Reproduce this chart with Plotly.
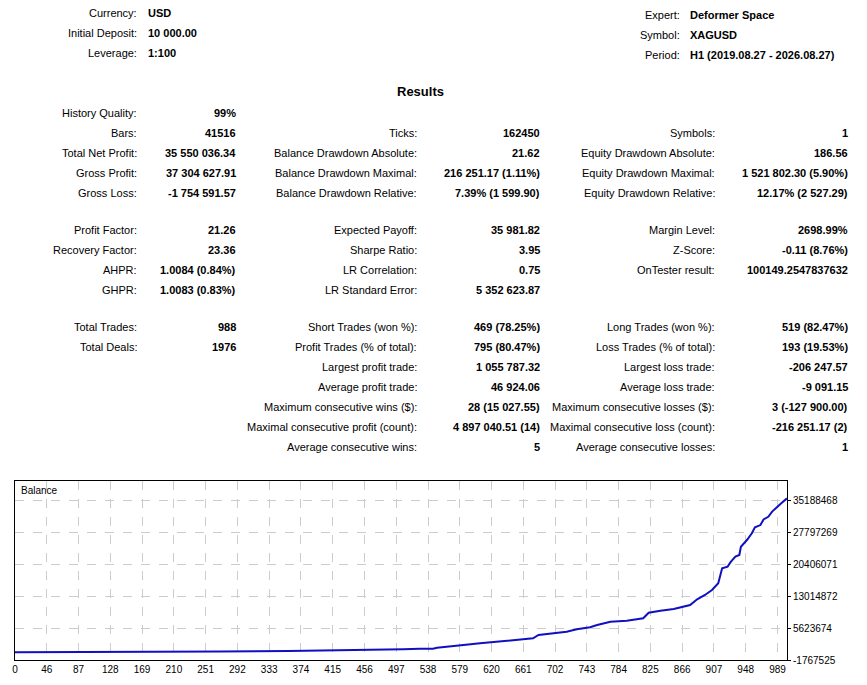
import plotly.graph_objects as go

# balance curve (trade number, balance)
trades = [0, 130, 262, 350, 426, 497, 518, 535, 540, 557, 574, 595, 617, 646,
          663, 670, 689, 706, 719, 736, 745, 762, 783, 804, 811, 817, 826, 843,
          864, 873, 883, 892, 900, 905, 912, 916, 922, 927, 929, 937, 943, 947,
          954, 958, 964, 969, 975, 981, 988]
balance = [10000, 60000, 200000, 330000, 480000, 720000, 840000, 840000,
           1070000, 1300000, 1700000, 2080000, 2460000, 2850000, 3240000,
           4010000, 4400000, 4770000, 5320000, 5790000, 6320000, 7080000,
           7320000, 7860000, 9160000, 9390000, 9600000, 10000000, 10940000,
           12260000, 13250000, 14400000, 15950000, 19400000, 19800000, 20900000,
           22100000, 22500000, 24400000, 26000000, 27500000, 28900000, 29400000,
           30700000, 31300000, 32500000, 33600000, 34500000, 35560036]

x_tick_labels = [0, 46, 87, 128, 169, 210, 251, 292, 333, 374, 415, 456, 497,
                 538, 579, 620, 661, 702, 743, 784, 825, 866, 907, 948, 989]
y_ticks = [-1767525, 5623674, 13014872, 20406071, 27797269, 35188468]

# header block
head_left = [("Currency:", "USD"), ("Initial Deposit:", "10 000.00"), ("Leverage:", "1:100")]
head_right = [("Expert:", "Deformer Space"), ("Symbol:", "XAGUSD"),
              ("Period:", "H1 (2019.08.27 - 2026.08.27)")]

# results table, rows keyed by their line
rows_y = [113, 133, 153, 173, 193, 230, 250, 270, 290, 327, 347, 367, 387, 407, 427, 447]
col1 = [("History Quality:", "99%"), ("Bars:", "41516"),
        ("Total Net Profit:", "35 550 036.34"), ("Gross Profit:", "37 304 627.91"),
        ("Gross Loss:", "-1 754 591.57"), ("Profit Factor:", "21.26"),
        ("Recovery Factor:", "23.36"), ("AHPR:", "1.0084 (0.84%)"),
        ("GHPR:", "1.0083 (0.83%)"), ("Total Trades:", "988"),
        ("Total Deals:", "1976")]
col2 = [None, ("Ticks:", "162450"), ("Balance Drawdown Absolute:", "21.62"),
        ("Balance Drawdown Maximal:", "216 251.17 (1.11%)"),
        ("Balance Drawdown Relative:", "7.39% (1 599.90)"),
        ("Expected Payoff:", "35 981.82"), ("Sharpe Ratio:", "3.95"),
        ("LR Correlation:", "0.75"), ("LR Standard Error:", "5 352 623.87"),
        ("Short Trades (won %):", "469 (78.25%)"),
        ("Profit Trades (% of total):", "795 (80.47%)"),
        ("Largest profit trade:", "1 055 787.32"),
        ("Average profit trade:", "46 924.06"),
        ("Maximum consecutive wins ($):", "28 (15 027.55)"),
        ("Maximal consecutive profit (count):", "4 897 040.51 (14)"),
        ("Average consecutive wins:", "5")]
col3 = [None, ("Symbols:", "1"), ("Equity Drawdown Absolute:", "186.56"),
        ("Equity Drawdown Maximal:", "1 521 802.30 (5.90%)"),
        ("Equity Drawdown Relative:", "12.17% (2 527.29)"),
        ("Margin Level:", "2698.99%"), ("Z-Score:", "-0.11 (8.76%)"),
        ("OnTester result:", "100149.2547837632"), None,
        ("Long Trades (won %):", "519 (82.47%)"),
        ("Loss Trades (% of total):", "193 (19.53%)"),
        ("Largest loss trade:", "-206 247.57"),
        ("Average loss trade:", "-9 091.15"),
        ("Maximum consecutive losses ($):", "3 (-127 900.00)"),
        ("Maximal consecutive loss (count):", "-216 251.17 (2)"),
        ("Average consecutive losses:", "1")]

W, H = 867, 685
OFF = 8  # page body margin
L, R, T, B = 15, 787, 481, 660  # plot box in page pixels
FONT = "Liberation Sans, Arial, sans-serif"

ann = []


def text(x, y, s, anchor, bold=False, size=11):
    # place in page pixels relative to the plot box top-left corner
    ann.append(dict(x=0, y=1, xref="paper", yref="paper", xshift=x - L, yshift=T - y,
                    text=f"<b>{s}</b>" if bold else s,
                    showarrow=False, xanchor=anchor, yanchor="middle",
                    font=dict(family=FONT, size=size, color="#000")))


for i, (lab, val) in enumerate(head_left):
    text(139, 13 + 20 * i, lab, "right")
    text(146, 13 + 20 * i, val, "left", bold=True)
for i, (lab, val) in enumerate(head_right):
    text(682, 15 + 20 * i, lab, "right")
    text(688, 15 + 20 * i, val, "left", bold=True)

text(420, 91, "Results", "center", bold=True, size=13)

for col, lx, vx in [(col1, 139, 238), (col2, 419, 542), (col3, 717, 850)]:
    for item, y in zip(col, rows_y):
        if item is None:
            continue
        text(lx, y, item[0], "right")
        text(vx, y, item[1], "right", bold=True)

text(19, 490, "Balance", "left", size=10)

x_max = 988
step = x_max / 24.3
x_tick_vals = [i * step for i in range(len(x_tick_labels))]

fig = go.Figure()
fig.add_trace(go.Scatter(x=trades, y=balance, mode="lines",
                         line=dict(color="#1010c0", width=2), hoverinfo="skip"))

fig.update_layout(
    width=W, height=H,
    margin=dict(l=L - OFF, r=W - (R - OFF), t=T - OFF, b=H - (B - OFF), pad=0, autoexpand=False),
    paper_bgcolor="white", plot_bgcolor="white",
    showlegend=False,
    annotations=ann,
    font=dict(family=FONT, size=11, color="#000"),
)
fig.update_xaxes(range=[0, x_max], tickvals=x_tick_vals, ticktext=[str(v) for v in x_tick_labels],
                 showgrid=True, gridcolor="#cccccc", griddash="dash", gridwidth=1,
                 showline=True, linecolor="#000", linewidth=1, mirror=True,
                 ticks="", zeroline=False, ticklabelstandoff=0,
                 tickfont=dict(size=10), automargin=False)
fig.update_yaxes(range=[-1767525, -1767525 + (B - T) * 7391199 / 32], tickvals=y_ticks,
                 ticktext=[str(v) for v in y_ticks], side="right",
                 showgrid=True, gridcolor="#cccccc", griddash="dash", gridwidth=1,
                 showline=True, linecolor="#000", linewidth=1, mirror=True,
                 ticks="outside", ticklen=3, tickcolor="#000", zeroline=False,
                 tickfont=dict(size=10), automargin=False)

fig.write_html("out.html")
